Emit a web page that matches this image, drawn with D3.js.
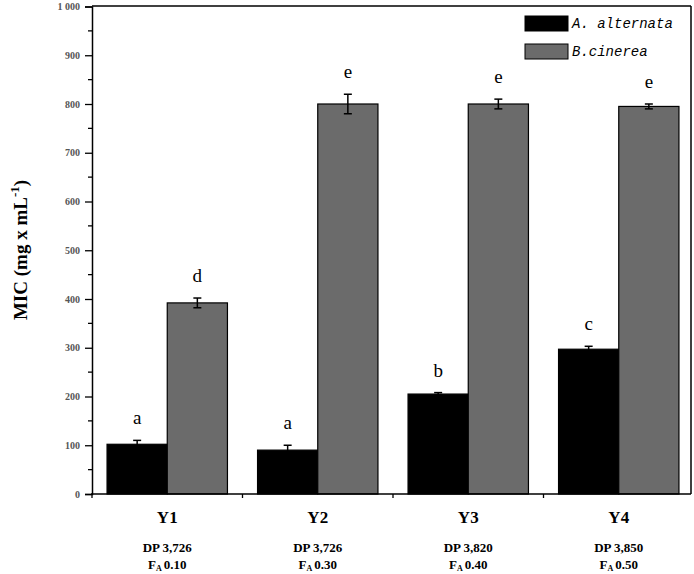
<!DOCTYPE html>
<html><head><meta charset="utf-8">
<script src="https://cdn.jsdelivr.net/npm/d3@7"></script>
<style>body{margin:0;background:#fff}svg{display:block}</style>
</head><body>
<svg id="c" width="694" height="574"></svg>
<script>
const categories = ["Y1","Y2","Y3","Y4"];
const dpLabels = ["DP 3,726","DP 3,726","DP 3,820","DP 3,850"];
const faLabels = ["0.10","0.30","0.40","0.50"];
const series = ["A. alternata","B.cinerea"];
const alternata = [102, 90, 205, 297];
const alternataErr = [8, 10, 3, 6];
const cinerea = [392, 800, 800, 795];
const cinereaErr = [10, 20, 10, 5];
const alternataLetters = ["a","a","b","c"];
const cinereaLetters = ["d","e","e","e"];
const yTicks = [0,100,200,300,400,500,600,700,800,900,1000];

const colors = ["#000000","#6b6b6b"];
const svg = d3.select("#c");
const L = 92, R = 691, T = 6, B = 494;
const x = d3.scaleBand().domain(categories).range([L, 694]).paddingInner(0.2).paddingOuter(0.1);
const xs = d3.scaleBand().domain(series).range([0, x.bandwidth()]);
const y = d3.scaleLinear().domain([0, 1000]).range([B, T + 0.5]);

const data = [alternata, cinerea], errs = [alternataErr, cinereaErr], letters = [alternataLetters, cinereaLetters];

// frame
svg.append("line").attr("x1", L).attr("x2", R).attr("y1", T).attr("y2", T).attr("stroke", "#000").attr("stroke-width", 1.5);
svg.append("line").attr("x1", R).attr("x2", R).attr("y1", T).attr("y2", B).attr("stroke", "#000").attr("stroke-width", 1.5);

// bars
series.forEach((s, si) => {
  const g = svg.append("g");
  categories.forEach((c, ci) => {
    const v = data[si][ci], e = errs[si][ci];
    const bx = x(c) + xs(s), bw = xs.bandwidth();
    g.append("rect").attr("x", bx).attr("y", y(v)).attr("width", bw).attr("height", y(0) - y(v))
      .attr("fill", colors[si]).attr("stroke", "#000").attr("stroke-width", 1.2);
    const cx = bx + bw / 2;
    g.append("line").attr("x1", cx).attr("x2", cx).attr("y1", y(v + e)).attr("y2", y(v - e)).attr("stroke", "#000").attr("stroke-width", 1.5);
    [v + e, v - e].forEach(t => g.append("line").attr("x1", cx - 4).attr("x2", cx + 4).attr("y1", y(t)).attr("y2", y(t)).attr("stroke", "#000").attr("stroke-width", 1.5));
    g.append("text").attr("x", cx).attr("y", y(v + e) - 16).attr("text-anchor", "middle")
      .attr("font-family", "Liberation Serif, serif").attr("font-size", 19).text(letters[si][ci]);
  });
});

// y axis
const yAxis = d3.axisLeft(y).tickValues(yTicks).tickSize(7).tickPadding(5).tickFormat(d => d === 1000 ? "1 000" : d);
const ya = svg.append("g").attr("transform", `translate(${L},0)`).call(yAxis);
ya.select(".domain").attr("stroke-width", 1.5);
ya.selectAll(".tick line").attr("stroke-width", 1.3);
ya.selectAll("text").attr("font-family", "Liberation Serif, serif").attr("font-size", 10).attr("font-weight", "bold").attr("fill", "#555");
const minor = d3.range(50, 1000, 100);
svg.append("g").selectAll("line").data(minor).join("line")
  .attr("x1", L - 4).attr("x2", L).attr("y1", d => y(d)).attr("y2", d => y(d)).attr("stroke", "#000").attr("stroke-width", 1.3);

// x axis
svg.append("line").attr("x1", L - 1).attr("x2", R).attr("y1", B).attr("y2", B).attr("stroke", "#000").attr("stroke-width", 1.5);
const bounds = categories.slice(1).map(c => x(c) - x.step() * x.paddingInner() / 2);
bounds.unshift(L);
svg.append("g").selectAll("line").data(bounds).join("line")
  .attr("x1", d => d).attr("x2", d => d).attr("y1", B).attr("y2", B + 4).attr("stroke", "#000").attr("stroke-width", 1.3);

const xl = svg.append("g").attr("font-family", "Liberation Serif, serif").attr("font-weight", "bold").attr("text-anchor", "middle");
categories.forEach((c, i) => {
  const cx = x(c) + x.bandwidth() / 2;
  xl.append("text").attr("x", cx).attr("y", 523).attr("font-size", 17).text(c);
  xl.append("text").attr("x", cx).attr("y", 552).attr("font-size", 13).text(dpLabels[i]);
  const t = xl.append("text").attr("x", cx).attr("y", 569).attr("font-size", 13);
  t.append("tspan").text("F");
  t.append("tspan").attr("font-size", 8).attr("dy", 2).text("A");
  t.append("tspan").attr("dy", -2).attr("dx", 2).text(faLabels[i]);
});

// y label
const yl = svg.append("text").attr("transform", "translate(27,250) rotate(-90)").attr("text-anchor", "middle")
  .attr("font-family", "Liberation Serif, serif").attr("font-weight", "bold").attr("font-size", 19);
yl.append("tspan").text("MIC (mg x mL");
yl.append("tspan").attr("dy", -8).attr("font-size", 13).text("-1");
yl.append("tspan").attr("dy", 8).text(")");

// legend
const lg = svg.append("g");
series.forEach((s, i) => {
  const yy = 16 + i * 28;
  lg.append("rect").attr("x", 525).attr("y", yy).attr("width", 43).attr("height", 15).attr("fill", colors[i]).attr("stroke", "#000").attr("stroke-width", 1);
  lg.append("text").attr("x", 572).attr("y", yy + 12).attr("font-family", "Liberation Mono, monospace").attr("font-style", "italic").attr("font-size", 14).text(s);
});
</script>
</body></html>
